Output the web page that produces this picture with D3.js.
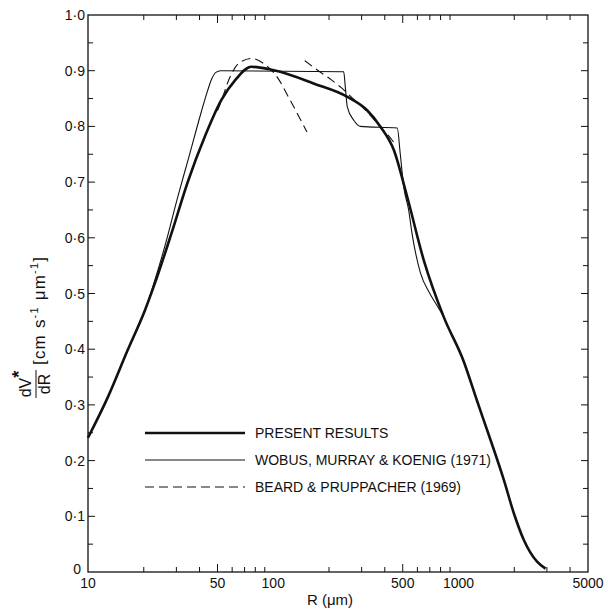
<!DOCTYPE html>
<html>
<head>
<meta charset="utf-8">
<script src="https://cdn.jsdelivr.net/npm/d3@7"></script>
<style>
  body { margin: 0; background: #fff; }
  svg text { font-family: "Liberation Sans", Arial, sans-serif; fill: #111; }
</style>
</head>
<body>
<svg class="chart" width="608" height="611"></svg>
<script>
/**********************
 Data
**********************/
// present results: [R (um), dV*/dR]
var presentR = [10, 12.8, 16.4, 20.3, 23, 28.1, 34.7, 42.9, 52.4, 62.3, 76, 94, 109, 165, 251, 321, 378, 447, 527, 649, 832, 1067, 1260, 1489, 1758, 1991, 2255, 2663, 2950];
var presentV = [0.241, 0.314, 0.399, 0.47, 0.519, 0.606, 0.702, 0.783, 0.847, 0.883, 0.907, 0.903, 0.898, 0.877, 0.853, 0.829, 0.80, 0.758, 0.675, 0.56, 0.458, 0.378, 0.307, 0.237, 0.165, 0.105, 0.057, 0.018, 0.006];

// Wobus, Murray & Koenig (1971)
var wobusR = [10, 12.8, 16.4, 20.3, 23, 26, 30.6, 34.7, 40.8, 44, 46.5, 49, 52, 240, 245, 251, 272, 295, 467, 485, 506, 538, 561, 623, 700, 767, 832];
var wobusV = [0.241, 0.314, 0.399, 0.47, 0.525, 0.585, 0.675, 0.74, 0.825, 0.862, 0.885, 0.897, 0.9, 0.898, 0.87, 0.835, 0.811, 0.80, 0.797, 0.75, 0.692, 0.65, 0.608, 0.537, 0.50, 0.478, 0.458];

// Beard & Pruppacher (1969), two dashed pieces
var beard1R = [50, 51.8, 58.5, 65, 76.6, 88.6, 104.8, 123.4, 152];
var beard1V = [0.828, 0.841, 0.889, 0.913, 0.922, 0.913, 0.889, 0.847, 0.79];
var beard2R = [148, 175, 205, 232, 265, 300, 330, 380, 420, 455];
var beard2V = [0.918, 0.900, 0.884, 0.870, 0.852, 0.836, 0.822, 0.798, 0.783, 0.768];

var xTickLabels = [10, 50, 100, 500, 1000, 5000];
var yTickLabels = ["0", "0·1", "0·2", "0·3", "0·4", "0·5", "0·6", "0·7", "0·8", "0·9", "1·0"];
var legendNames = ["PRESENT  RESULTS", "WOBUS, MURRAY & KOENIG (1971)", "BEARD & PRUPPACHER (1969)"];

/**********************
 Layout
**********************/
var svg = d3.select('svg.chart');
var plot = {l: 88, r: 588, t: 15, b: 572};

var xScale = d3.scaleLog().domain([10, 5000]).range([plot.l, plot.r]);
var yScale = d3.scaleLinear().domain([0, 1]).range([plot.b, plot.t]);

function zip(rs, vs) {
    return rs.map(function(r, i) { return [r, vs[i]]; });
}

var line = d3.line()
    .x(function(d) { return xScale(d[0]); })
    .y(function(d) { return yScale(d[1]); })
    .curve(d3.curveMonotoneX);

/**********************
 Frame + ticks (all inward)
**********************/
svg.append('rect')
    .attr('x', plot.l).attr('y', plot.t)
    .attr('width', plot.r - plot.l).attr('height', plot.b - plot.t)
    .attr('fill', 'none').attr('stroke', '#111').attr('stroke-width', 1.3);

// x ticks: 20..90, 200..900, 2000..4000
var xMinor = [];
[10, 100, 1000].forEach(function(dec) {
    for (var k = 2; k <= 9; k++) {
        if (dec * k < 5000) xMinor.push(dec * k);
    }
});
var xMajor = [50, 100, 500, 1000];

var ticksG = svg.append('g').attr('stroke', '#111').attr('stroke-width', 1);
xMinor.forEach(function(v) {
    var len = xMajor.indexOf(v) >= 0 ? 8 : 5;
    ticksG.append('line')
        .attr('x1', xScale(v)).attr('x2', xScale(v))
        .attr('y1', plot.b).attr('y2', plot.b - len);
    ticksG.append('line')
        .attr('x1', xScale(v)).attr('x2', xScale(v))
        .attr('y1', plot.t).attr('y2', plot.t + len);
});

// y ticks every 0.05
d3.range(1, 20).forEach(function(i) {
    var v = i * 0.05;
    var len = (i % 2 === 0) ? 7 : 5;
    ticksG.append('line')
        .attr('x1', plot.l).attr('x2', plot.l + len)
        .attr('y1', yScale(v)).attr('y2', yScale(v));
    ticksG.append('line')
        .attr('x1', plot.r).attr('x2', plot.r - len)
        .attr('y1', yScale(v)).attr('y2', yScale(v));
});

// tick labels
svg.append('g').selectAll('text')
    .data(xTickLabels)
    .enter().append('text')
    .attr('x', function(d) { return xScale(d); })
    .attr('y', 588)
    .attr('text-anchor', 'middle')
    .attr('font-size', 14)
    .text(function(d) { return d; });

svg.append('g').selectAll('text')
    .data(yTickLabels)
    .enter().append('text')
    .attr('x', function(d, i) { return i === 0 ? 81 : 85; })
    .attr('y', function(d, i) { return yScale(i / 10) + (i === 0 ? 2 : 5); })
    .attr('text-anchor', 'end')
    .attr('font-size', 14)
    .text(function(d) { return d; });

// x label
svg.append('text')
    .attr('x', 330).attr('y', 605)
    .attr('text-anchor', 'middle')
    .attr('font-size', 15)
    .text('R (μm)');

// y label (rotated)
var yl = svg.append('g').attr('transform', 'rotate(-90)');
var num = yl.append('text')
    .attr('x', -384).attr('y', 31)
    .attr('text-anchor', 'middle')
    .attr('font-size', 16);
num.append('tspan').text('dV');
num.append('tspan').attr('dy', -6).attr('font-weight', 'bold').attr('font-size', 18).text('*');
yl.append('line')
    .attr('x1', -398).attr('x2', -370)
    .attr('y1', 36).attr('y2', 36)
    .attr('stroke', '#111').attr('stroke-width', 1);
yl.append('text')
    .attr('x', -384).attr('y', 50)
    .attr('text-anchor', 'middle')
    .attr('font-size', 16)
    .text('dR');
var unit = yl.append('text')
    .attr('x', -365).attr('y', 45)
    .attr('font-size', 17)
    .attr('letter-spacing', 1.2);
unit.append('tspan').text('[cm s');
unit.append('tspan').attr('dy', -7).attr('font-size', 11).text('-1');
unit.append('tspan').attr('dy', 7).text(' μm');
unit.append('tspan').attr('dy', -7).attr('font-size', 11).text('-1');
unit.append('tspan').attr('dy', 7).text(']');

/**********************
 Curves
**********************/
var curvesG = svg.append('g').attr('fill', 'none').attr('stroke', '#111');

curvesG.append('path')
    .datum(zip(wobusR, wobusV))
    .attr('d', line)
    .attr('stroke-width', 1.1);

[zip(beard1R, beard1V), zip(beard2R, beard2V)].forEach(function(seg) {
    curvesG.append('path')
        .datum(seg)
        .attr('d', line)
        .attr('stroke-width', 1.1)
        .attr('stroke-dasharray', '9,5');
});

curvesG.append('path')
    .datum(zip(presentR, presentV))
    .attr('d', line)
    .attr('stroke-width', 2.6);

/**********************
 Legend
**********************/
var legY = [433, 460, 487];
var legStyles = [
    {w: 2.6, dash: null},
    {w: 1.1, dash: null},
    {w: 1.1, dash: '9,5'}
];
legendNames.forEach(function(name, i) {
    svg.append('line')
        .attr('x1', 145).attr('x2', 245)
        .attr('y1', legY[i]).attr('y2', legY[i])
        .attr('stroke', '#111')
        .attr('stroke-width', legStyles[i].w)
        .attr('stroke-dasharray', legStyles[i].dash);
    svg.append('text')
        .attr('x', 255).attr('y', legY[i] + 5)
        .attr('font-size', 14)
        .text(name);
});
</script>
</body>
</html>
